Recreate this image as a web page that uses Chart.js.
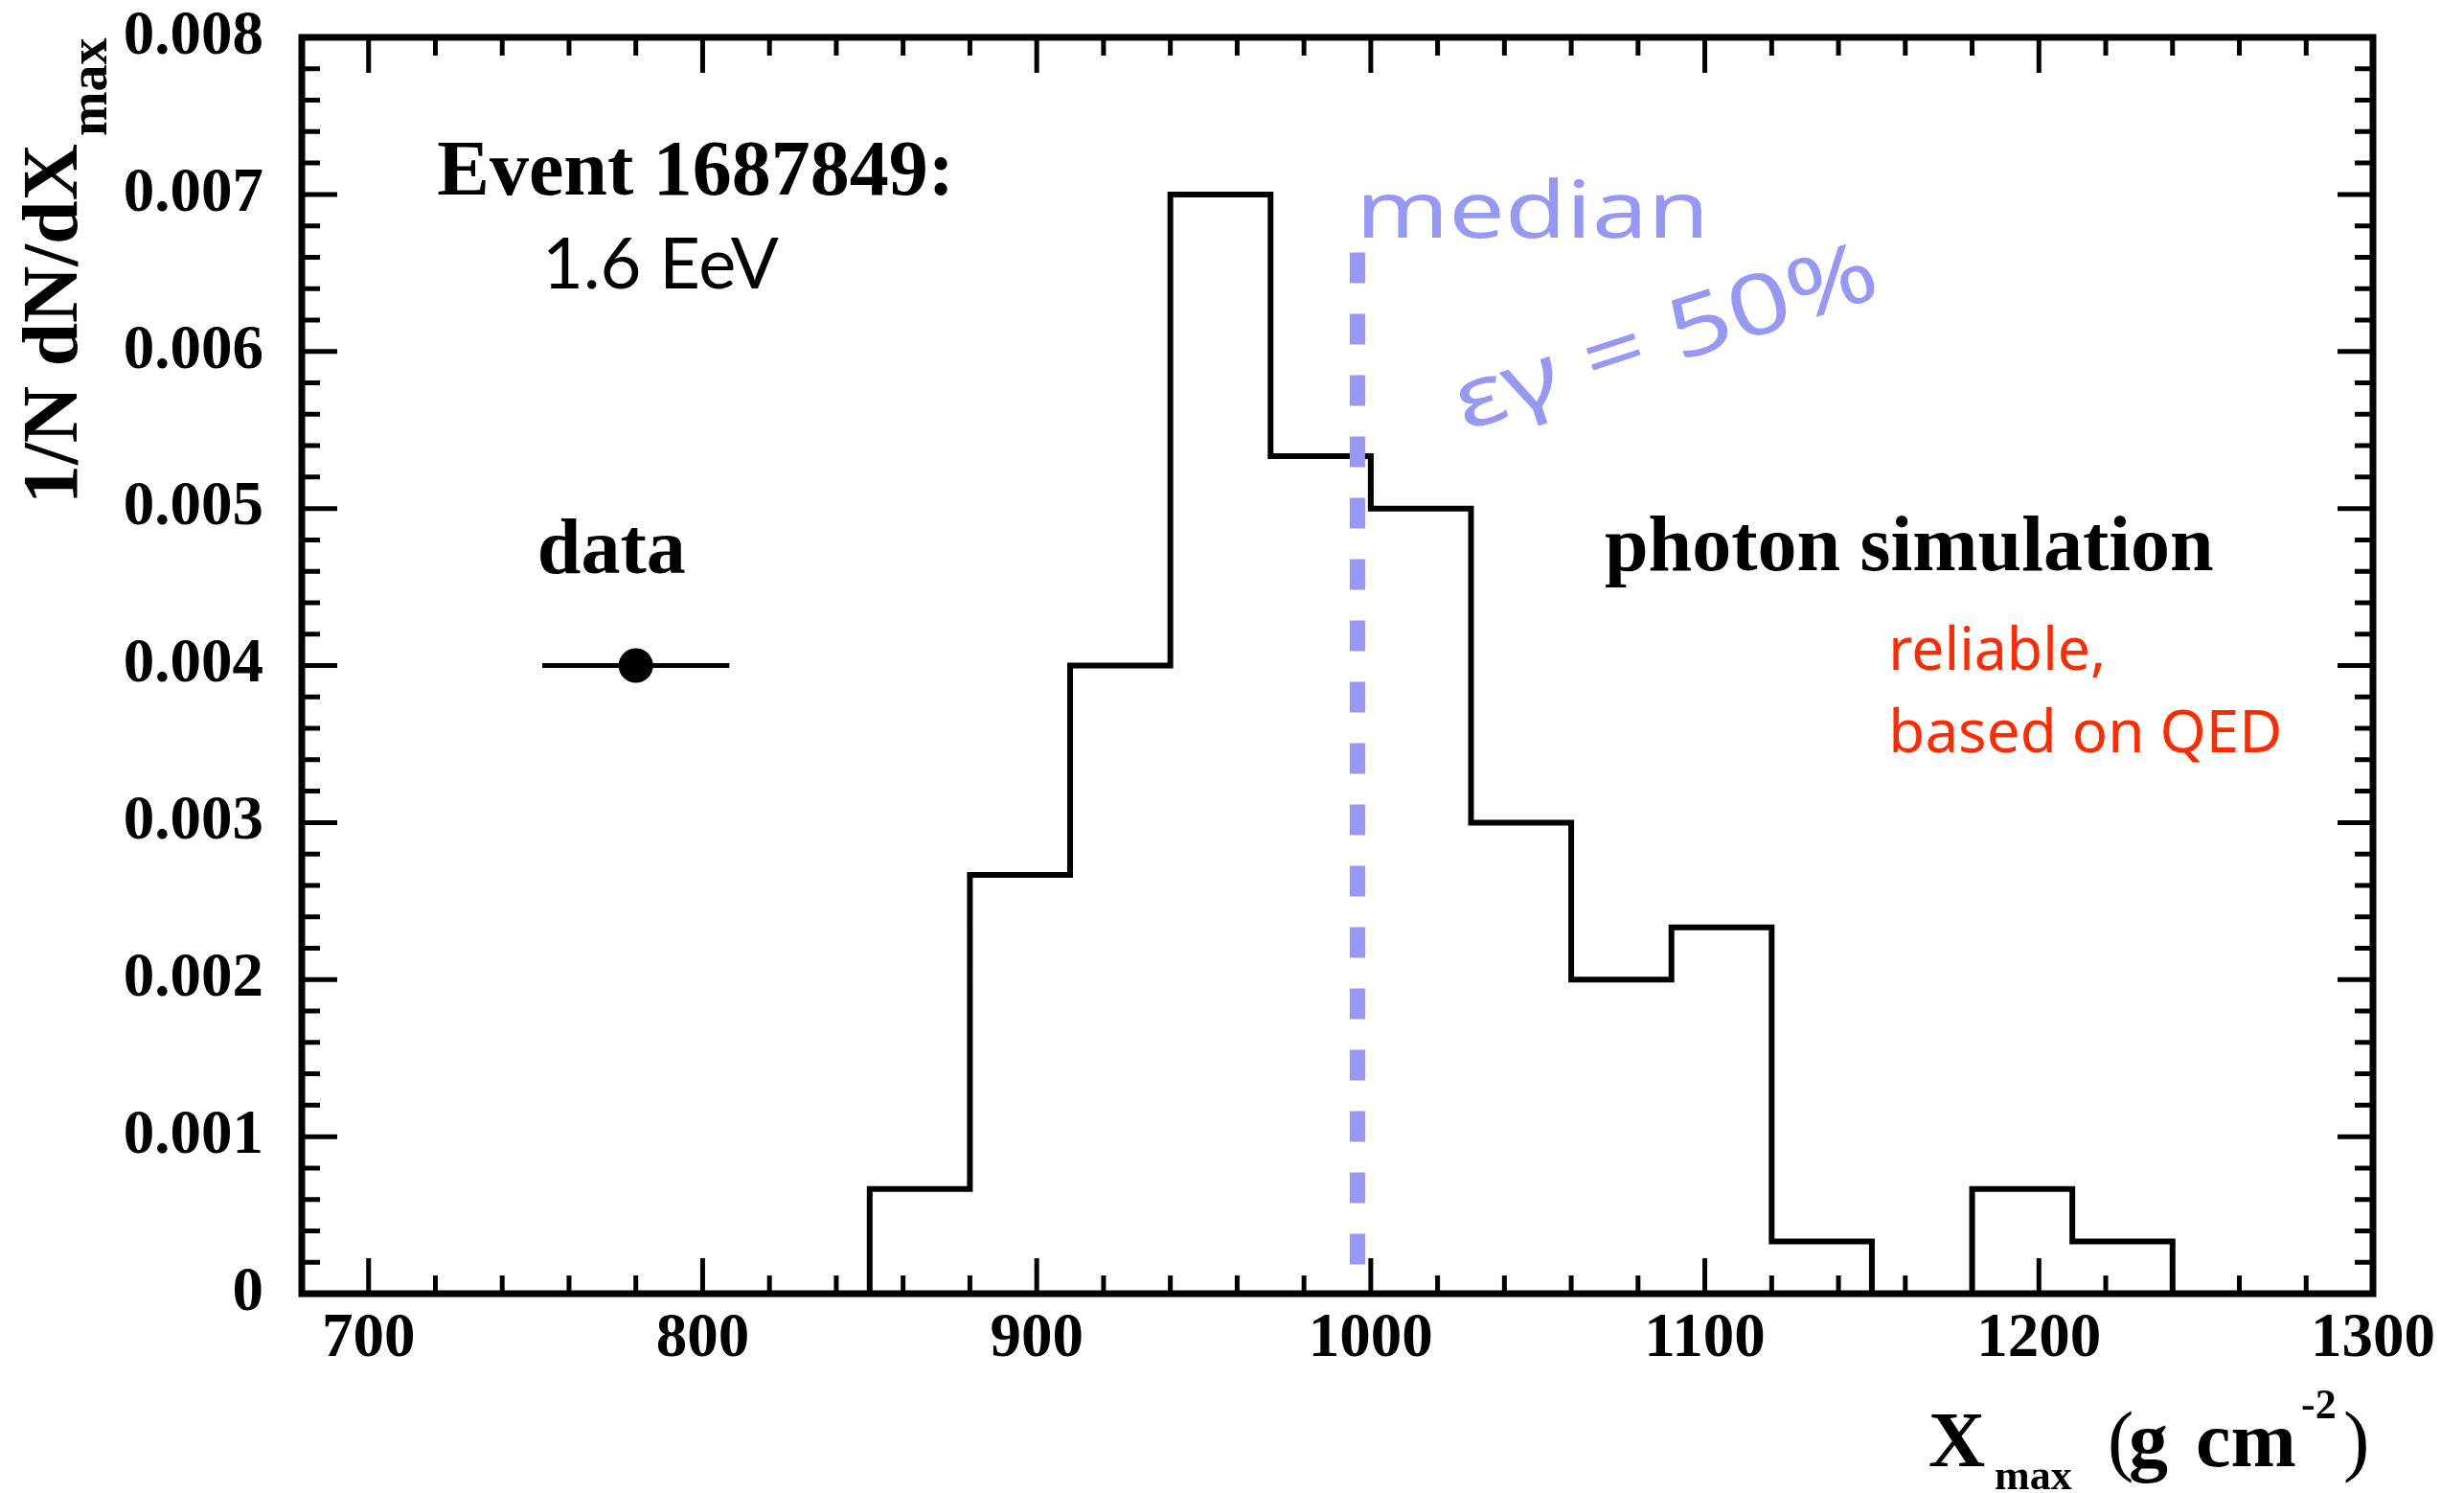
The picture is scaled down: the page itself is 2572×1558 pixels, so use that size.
<!DOCTYPE html>
<html lang="en">
<head>
  <meta charset="UTF-8">
  <title>Xmax distribution</title>
  <script src="https://cdn.jsdelivr.net/npm/chart.js"></script>
  <style>
    html, body { margin: 0; padding: 0; background: #fff; }
  </style>
</head>
<body>
  <canvas id="myChart" width="2572" height="1558"></canvas>
  <script>
    // photon simulation histogram: bin edges (g cm^-2) and 1/N dN/dXmax per bin
    const binEdges = [850, 880, 910, 940, 970, 1000, 1030, 1060, 1090, 1120, 1150, 1180, 1210, 1240];
    const binValues = [0.000667, 0.002667, 0.004, 0.007, 0.005333, 0.005, 0.003, 0.002, 0.002333, 0.000333, 0, 0.000667, 0.000333];

    // the measured event and its Xmax uncertainty
    const eventX = 780;
    const eventY = 0.004;
    const eventXRange = [752, 808];

    // median of the simulated distribution
    const medianX = 996;
    const medianTop = 0.00663;

    const xTicks = [700, 800, 900, 1000, 1100, 1200, 1300];
    const yTicks = [0, 0.001, 0.002, 0.003, 0.004, 0.005, 0.006, 0.007, 0.008];

    const SERIF = '"Liberation Serif", "Times New Roman", serif';
    const HAND = '"Noto Sans", "Open Sans", sans-serif';

    // outline of the histogram, ROOT style
    const histPts = [{ x: binEdges[0], y: 0 }];
    binValues.forEach((v, i) => {
      histPts.push({ x: binEdges[i], y: v });
      histPts.push({ x: binEdges[i + 1], y: v });
    });
    histPts.push({ x: binEdges[binEdges.length - 1], y: 0 });

    // frame + inward ticks on all four sides
    const frameTicks = {
      id: 'frameTicks',
      afterDatasetsDraw(chart) {
        const { ctx, chartArea: a, scales } = chart;
        const xs = scales.x, ys = scales.y;
        ctx.save();
        ctx.strokeStyle = '#000';
        ctx.lineCap = 'butt';
        ctx.lineWidth = 5;
        ctx.beginPath();
        for (let v = 700; v <= 1300; v += 20) {
          const px = xs.getPixelForValue(v);
          const len = (v % 100 === 0) ? 37 : 19;
          ctx.moveTo(px, a.bottom); ctx.lineTo(px, a.bottom - len);
          ctx.moveTo(px, a.top); ctx.lineTo(px, a.top + len);
        }
        for (let k = 0; k <= 40; k++) {
          const py = ys.getPixelForValue(k * 0.0002);
          const len = (k % 5 === 0) ? 37 : 19;
          ctx.moveTo(a.left, py); ctx.lineTo(a.left + len, py);
          ctx.moveTo(a.right, py); ctx.lineTo(a.right - len, py);
        }
        ctx.stroke();
        ctx.lineWidth = 7;
        ctx.strokeRect(a.left, a.top, a.right - a.left, a.bottom - a.top);
        ctx.restore();
      }
    };

    function stretchText(ctx, str, x, y, width, font, color, angle) {
      ctx.save();
      ctx.font = font;
      ctx.fillStyle = color;
      const w = ctx.measureText(str).width;
      ctx.translate(x, y);
      if (angle) ctx.rotate(angle);
      ctx.scale(width / w, 1);
      ctx.fillText(str, 0, 0);
      ctx.restore();
    }

    // labels, axis titles and the hand-written notes
    const annotations = {
      id: 'annotations',
      afterDraw(chart) {
        const { ctx, scales } = chart;
        const px = v => scales.x.getPixelForValue(v);
        const py = v => scales.y.getPixelForValue(v);
        ctx.save();
        ctx.textAlign = 'left';
        ctx.textBaseline = 'alphabetic';
        ctx.fillStyle = '#000';

        ctx.font = 'bold 82px ' + SERIF;
        ctx.fillText('Event 1687849:', px(720.5), py(0.0070));
        ctx.fillText('data', px(750.5), py(0.00459));
        ctx.fillText('photon simulation', px(1070), py(0.00461));

        ctx.font = '74px Lato, "Noto Sans", sans-serif';
        ctx.fillText('1.6 EeV', px(752), py(0.0064));

        // y axis title
        ctx.save();
        ctx.translate(80, 526);
        ctx.rotate(-Math.PI / 2);
        ctx.font = 'bold 82px ' + SERIF;
        const yt = '1/N dN/dX';
        ctx.fillText(yt, 0, 0);
        const w = ctx.measureText(yt).width;
        ctx.font = 'bold 56px ' + SERIF;
        ctx.fillText('max', w + 8, 31);
        ctx.restore();

        // x axis title
        ctx.font = 'bold 82px ' + SERIF;
        ctx.fillText('X', 2013, 1530);
        ctx.font = 'bold 44px ' + SERIF;
        ctx.fillText('max', 2082, 1554);
        ctx.font = '82px ' + SERIF;
        ctx.fillText('(', 2200, 1530);
        ctx.font = 'bold 82px ' + SERIF;
        ctx.fillText('g', 2222, 1530);
        ctx.fillText('cm', 2292, 1530);
        ctx.font = 'bold 44px ' + SERIF;
        ctx.fillText('-2', 2402, 1480);
        ctx.font = '82px ' + SERIF;
        ctx.fillText(')', 2446, 1530);

        // hand-written notes
        stretchText(ctx, 'median', px(995.5), py(0.006725), 369, '82px ' + HAND, '#9599f4');
        ctx.textAlign = 'center';
        ctx.textBaseline = 'middle';
        stretchText(ctx, '\u03b5\u03b3 = 50%', px(1088.5), py(0.00607), 460, '88px ' + HAND, '#9599f4', -18 * Math.PI / 180);
        ctx.textAlign = 'left';
        ctx.textBaseline = 'alphabetic';
        stretchText(ctx, 'reliable,', px(1155), py(0.00397), 227, '62px ' + HAND, '#ff2a00');
        stretchText(ctx, 'based on QED', px(1155), py(0.003448), 411, '62px ' + HAND, '#ff2a00');
        ctx.restore();
      }
    };

    const tickFont = { family: SERIF, weight: 'bold', size: 65 };

    const ctx = document.getElementById('myChart').getContext('2d');
    const myChart = new Chart(ctx, {
      type: 'scatter',
      data: {
        datasets: [
          {
            label: 'median',
            data: [{ x: medianX, y: medianTop }, { x: medianX, y: 0 }],
            showLine: true,
            borderColor: '#9599f4',
            borderWidth: 16,
            borderDash: [32, 32],
            borderCapStyle: 'butt',
            pointRadius: 0,
            order: 0
          },
          {
            label: 'data',
            data: [{ x: eventX, y: eventY }],
            backgroundColor: '#000',
            borderWidth: 0,
            pointRadius: 18,
            order: 1
          },
          {
            label: 'data error',
            data: eventXRange.map(x => ({ x: x, y: eventY })),
            showLine: true,
            borderColor: '#000',
            borderWidth: 5,
            pointRadius: 0,
            order: 2
          },
          {
            label: 'photon simulation',
            data: histPts,
            showLine: true,
            borderColor: '#000',
            borderWidth: 6,
            borderJoinStyle: 'miter',
            tension: 0,
            pointRadius: 0,
            order: 3
          }
        ]
      },
      options: {
        responsive: false,
        animation: false,
        devicePixelRatio: 1,
        layout: { padding: { top: 39, right: 95, left: 0, bottom: 0 } },
        plugins: {
          legend: { display: false },
          tooltip: { enabled: false }
        },
        scales: {
          x: {
            type: 'linear',
            min: 680,
            max: 1300,
            afterBuildTicks: s => { s.ticks = xTicks.map(v => ({ value: v })); },
            afterFit: s => { s.height = 208; s.paddingLeft = 0; s.paddingRight = 0; },
            ticks: {
              font: tickFont,
              color: '#000',
              padding: 9,
              maxRotation: 0,
              autoSkip: false,
              callback: v => String(v)
            },
            grid: { display: false, drawTicks: false },
            border: { display: false }
          },
          y: {
            type: 'linear',
            min: 0,
            max: 0.008,
            afterBuildTicks: s => { s.ticks = yTicks.map(v => ({ value: v })); },
            afterFit: s => { s.width = 315; s.paddingTop = 0; s.paddingBottom = 0; },
            ticks: {
              font: tickFont,
              color: '#000',
              padding: 40,
              autoSkip: false,
              callback: v => v === 0 ? '0' : v.toFixed(3)
            },
            grid: { display: false, drawTicks: false },
            border: { display: false }
          }
        }
      },
      plugins: [frameTicks, annotations]
    });
  </script>
</body>
</html>
